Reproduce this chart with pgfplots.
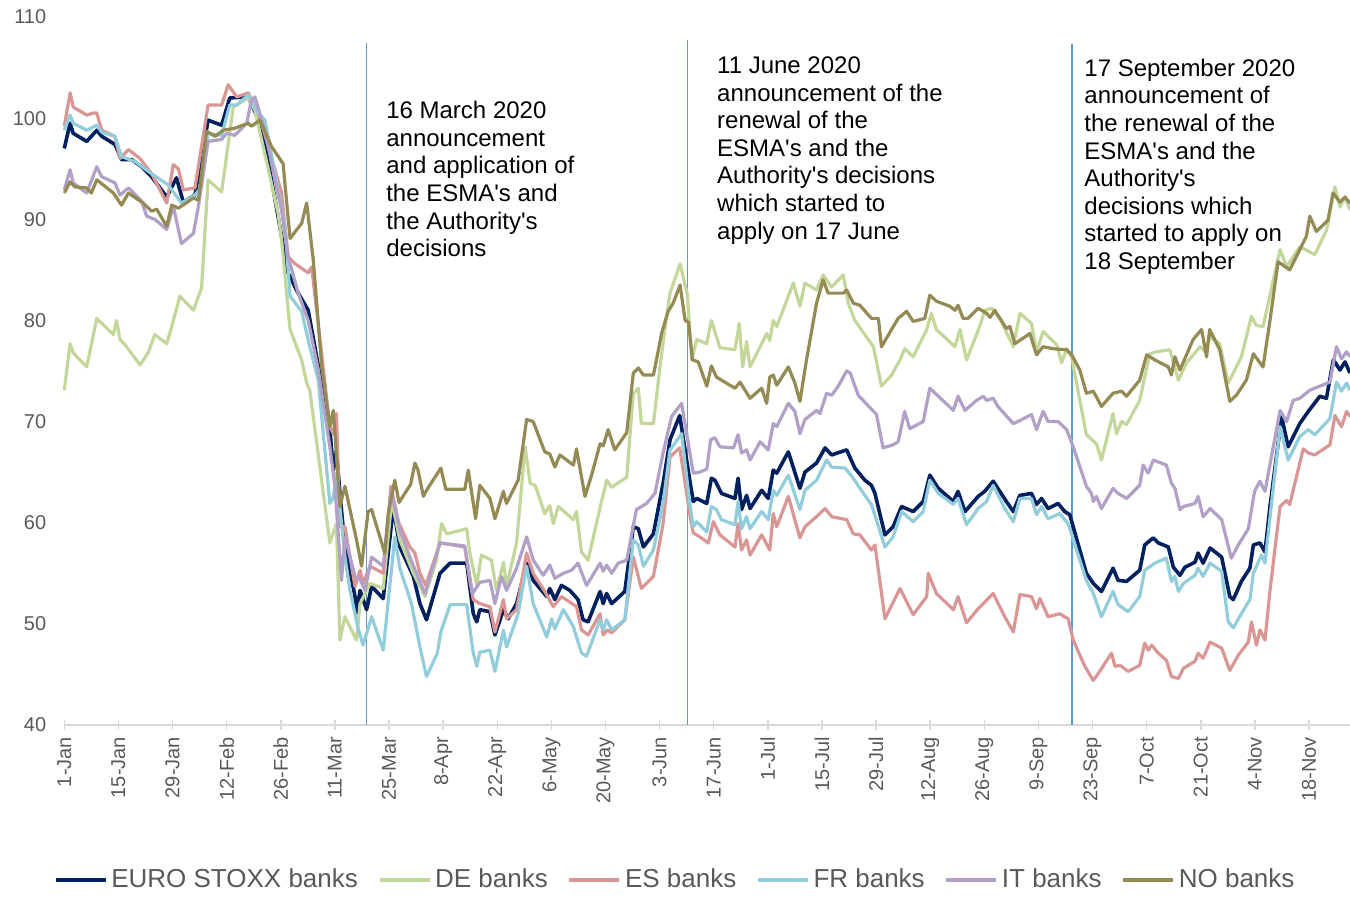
\documentclass[border=0pt]{standalone}
\usepackage{pgfplots}
\pgfplotsset{compat=1.18}
\usepackage{fontspec}
\setmainfont{Liberation Sans}
\definecolor{cEU}{HTML}{002060}
\definecolor{cDE}{HTML}{C4D79B}
\definecolor{cES}{HTML}{DA9694}
\definecolor{cFR}{HTML}{92CDDC}
\definecolor{cIT}{HTML}{B1A0C7}
\definecolor{cNO}{HTML}{948A54}
\definecolor{cVL}{HTML}{5B9BD5}
\definecolor{cTxt}{HTML}{595959}
\definecolor{cAx}{HTML}{D9D9D9}
\begin{document}
\begin{tikzpicture}
\useasboundingbox (0,0) rectangle (675pt,448.5pt);
\begin{axis}[
  at={(32.15pt,86pt)}, anchor=south west,
  scale only axis, width=642.85pt, height=354pt,
  xmin=0, xmax=332.6, ymin=40, ymax=110,
  clip=false,
  axis x line*=bottom, axis y line*=left,
  x axis line style={cAx, line width=0.75pt, -},
  y axis line style={draw=none},
  ytick style={draw=none},
  xtick style={cAx, line width=0.75pt},
  major tick length=5pt, tick align=center,
  xtick={0,14,...,322},
  xticklabels={1-Jan,15-Jan,29-Jan,12-Feb,26-Feb,11-Mar,25-Mar,8-Apr,22-Apr,6-May,20-May,3-Jun,17-Jun,1-Jul,15-Jul,29-Jul,12-Aug,26-Aug,9-Sep,23-Sep,7-Oct,21-Oct,4-Nov,18-Nov},
  ytick={40,50,...,110},
  /pgf/number format/assume math mode=true,
  tick label style={font=\fontsize{10}{12}\selectfont, text=cTxt},
  xticklabel style={rotate=90, anchor=east},
  yticklabel style={xshift=-3pt},
  legend columns=6,
  legend style={at={(0.476,-0.219)}, anchor=center, draw=none, fill=none,
    font=\fontsize{13}{15}\selectfont, text=cTxt,
    /tikz/every even column/.append style={column sep=8pt}},
  legend image code/.code={\draw[#1, line width=1.6pt] (0pt,0pt) -- (25pt,0pt);},
  every axis plot/.append style={line width=1.6pt, line join=round, no markers},
]
\addplot[cVL, line width=0.6pt, forget plot] coordinates {(78.2,40)(78.2,107.4)};
\addplot[cVL, line width=0.6pt, forget plot] coordinates {(161.2,40)(161.2,107.7)};
\addplot[cVL, line width=0.6pt, forget plot] coordinates {(260.7,40)(260.7,107.3)};

\addplot[cEU, line width=1.8pt] coordinates {
(0,97.0)(1.5,99.5)(2.3,98.5)(5.8,97.7)(8.4,98.8)(9.7,98.2)(13.1,97.4)(14.8,95.9)(17.4,95.9)(20,95.2)(22.6,94.2)(26.5,92.2)(29,94.1)(30.8,91.7)(33.8,92.4)(37.2,99.8)(40.7,99.3)(42.8,102.0)(47.6,102.1)(51,99.2)(53.6,93.9)(57.9,84.7)(60.5,82.7)(63.1,81.0)(68.7,69.2)(69.6,65.2)(70.4,67.2)(71.3,62.9)(72.6,57.6)(73.9,55.3)(75.2,52.7)(75.6,51.0)(76.5,53.3)(77.3,52.4)(78.2,51.4)(79.5,53.7)(82.5,52.5)(85.1,61.5)(86.8,57.6)(90.3,54.7)(92,52.0)(93.7,50.4)(97.2,55)(99.8,56)(104.1,56)(105.8,51.0)(106.7,50.2)(107.5,51.4)(110.1,51.2)(111.4,48.9)(113.6,51.4)(114.8,50.5)(117,52)(119.6,56)(121.3,54.3)(124.8,52.7)(125.6,53.5)(126.9,52.4)(128.6,53.8)(130.8,53.3)(132.9,52.4)(134.2,50.4)(135.5,50.2)(138.6,53.2)(139.4,52.0)(140.3,53.0)(141.6,52.0)(145,53.2)(147.2,59.6)(148.5,59.4)(149.8,57.6)(152.4,58.9)(154.9,63.9)(156.7,68.2)(159.2,70.6)(161.8,64.2)(162.7,62.1)(163.6,62.4)(166.2,61.9)(167.4,64.4)(168.3,64.2)(170,62.9)(173.5,62.4)(174.3,64.4)(175.2,61.3)(176.5,62.7)(177.4,61.4)(180.4,63.2)(182.1,62.4)(183.4,65.2)(184.3,64.9)(187.3,67.0)(190.3,63.4)(191.6,65.0)(194.6,65.9)(196.8,67.4)(198.5,66.7)(202.4,67.2)(204.5,65.4)(207.1,64.2)(208.8,63.7)(209.7,62.9)(212.3,58.8)(214.4,59.6)(216.6,61.6)(219.6,61.1)(222.2,62.1)(223.9,64.7)(226.1,63.4)(230,62.1)(231.2,63.1)(233,61.1)(236.4,62.6)(238.1,63.1)(240.3,64.1)(243.7,62.1)(245.5,61.1)(247.2,62.7)(250.2,62.9)(251.5,61.8)(252.8,62.4)(254.5,61.4)(257.1,61.9)(258.8,61.1)(260.1,60.8)(264.4,55.0)(266.2,54.0)(268.3,53.2)(271.3,55.5)(272.6,54.3)(274.8,54.2)(278.2,55.3)(279.5,57.8)(281.7,58.5)(283,58.0)(285.6,57.6)(286.9,55.6)(288.6,54.8)(289.9,55.6)(292.5,56.1)(293.3,57.0)(294.6,56.0)(296.4,57.5)(299.4,56.6)(301.5,52.7)(302.4,52.4)(304.5,54.2)(306.7,55.5)(307.6,57.8)(309.3,58.0)(310.6,57.1)(311.9,61.6)(314.9,70.5)(316.6,67.5)(319.6,69.8)(321.8,71.0)(324.8,72.5)(326.5,72.3)(328.3,76.1)(330,75.1)(331.3,75.9)(332.6,74.8)
};
\addlegendentry{EURO STOXX banks}

\addplot[cDE] coordinates {
(0,73.1)(1.5,77.7)(2.3,76.8)(5.8,75.4)(8.4,80.2)(12.7,78.6)(13.5,80.0)(14.4,78.1)(15.7,77.6)(19.6,75.6)(21.7,76.8)(23.4,78.6)(26.5,77.7)(27.8,79.4)(29.9,82.4)(33.4,81.0)(35.5,83.2)(37.2,93.9)(40.7,92.7)(43.7,101.1)(47.6,102.0)(49.3,100.8)(52.8,94.9)(55.3,90.6)(56.2,88.0)(58.4,79.1)(61.4,76.1)(62.7,73.8)(63.5,73.1)(68.7,58.0)(70.4,59.9)(71.3,48.4)(72.6,50.7)(75.6,48.4)(76.5,52.0)(78.2,53.3)(79.1,54.0)(82.5,53.5)(84.7,62.2)(86.8,58.3)(90.3,55.0)(93.3,52.7)(96.3,56.3)(97.6,59.9)(98.9,58.9)(104.1,59.4)(104.9,57.0)(106.7,53.8)(107.9,56.8)(110.5,56.3)(111.8,53.3)(113.6,56.1)(114.4,53.7)(117,58.0)(119.2,67.5)(120.5,63.9)(121.8,63.7)(124.3,60.9)(125.6,61.7)(126.5,59.9)(127.8,61.6)(131.7,60.3)(132.5,61.1)(133.8,57.1)(135.5,56.3)(138.6,61.5)(140.3,64.2)(141.6,63.5)(145.5,64.5)(147.2,72.8)(148.5,73.3)(149.3,69.8)(152.4,69.8)(154.1,75.4)(155.8,80.4)(156.7,82.7)(159.3,85.6)(161.2,82.5)(162.3,76.1)(163.6,78.1)(166.2,77.7)(167.4,80.0)(169.6,77.3)(173.5,77.1)(174.6,79.7)(175.5,75.4)(176.5,77.9)(177.4,75.4)(181.7,78.7)(182.5,78.0)(183.4,80.0)(184.3,79.4)(188.6,83.7)(190.3,81.4)(191.6,83.7)(194.6,83.0)(196.3,84.5)(198.5,83.3)(201.5,84.5)(202.8,81.7)(204.5,80.0)(209.3,77.4)(211.4,73.5)(214,74.6)(216.2,76.1)(217.4,77.2)(219.6,76.4)(223.1,79.1)(224.3,80.7)(225.6,79.1)(230.4,77.4)(231.7,79.1)(233.4,76.1)(236.8,79.4)(238.1,81.0)(239.9,81.2)(242,80.2)(245.5,77.4)(247.2,80.7)(250.2,79.7)(251.5,76.9)(253.2,78.9)(256.7,77.6)(258,75.8)(259.3,77.2)(260.6,76.4)(262.7,72.1)(264.4,68.7)(267,67.8)(268.3,66.2)(271.3,70.8)(272.2,68.8)(273.5,70.0)(274.8,69.7)(278.2,72.1)(280.8,76.7)(282.5,76.9)(286,77.1)(288.2,74.1)(290.3,75.8)(293.8,77.4)(295.1,76.9)(296.3,78.4)(298.9,77.7)(301.1,73.8)(302.4,74.8)(304.5,76.4)(307.1,80.4)(308.4,79.5)(310.1,79.4)(314.5,87.0)(316.2,85.3)(319.6,87.3)(323.5,86.5)(326.5,88.9)(328.7,93.2)(330,91.2)(331.3,92.2)(332.6,90.9)
};
\addlegendentry{DE banks}

\addplot[cES] coordinates {
(0,99.2)(1.5,102.5)(2.3,101.1)(5.8,100.3)(7.5,100.5)(8.4,100.5)(9.7,98.8)(13.1,98.2)(14.4,96.0)(16.6,96.9)(19.6,96.0)(22.6,94.5)(26.5,91.6)(28.2,95.4)(29.5,95.0)(30.8,92.9)(33.8,93.1)(37.2,101.3)(40.7,101.3)(42.4,103.3)(44.6,102.1)(47.6,102.5)(50.2,100.5)(52.8,97.2)(56.2,92.6)(57.9,86.3)(59.7,85.6)(63.1,84.7)(64,85.3)(68.7,69.5)(69.6,68.8)(70.4,70.8)(71.3,59.6)(72.6,59.6)(75.2,53.7)(76.5,55.3)(77.3,54.0)(79.1,55.7)(82.5,55.0)(84.5,63.6)(86.5,60.0)(89.4,57.6)(90.7,57.0)(92,55.0)(93.5,53.8)(97.2,58.0)(103.6,57.6)(104.9,54.3)(105.8,52.4)(107.5,52.0)(110.1,51.7)(111.4,49.2)(113.6,52.4)(114.4,50.5)(117,51.4)(119.6,57.0)(121.3,55.0)(124.3,53.2)(126.5,51.7)(128.6,52.7)(132.5,51.7)(133.8,49.4)(135.5,48.9)(138.6,51.0)(139.4,48.9)(140.5,49.4)(141.6,49.1)(145,50.4)(147.2,56.6)(149.3,53.5)(152.4,54.7)(154.9,59.9)(156.7,66.5)(159.2,67.4)(161.8,60.9)(162.7,59.0)(164.4,58.6)(166.6,58.0)(167.9,60.1)(169.6,58.8)(173.5,57.6)(174.3,59.9)(175.2,57.3)(176.5,58.3)(177.4,56.8)(180.4,58.8)(182.5,57.3)(183.4,60.9)(184.3,59.6)(187.3,62.6)(190.3,58.5)(191.6,59.6)(194.6,60.6)(196.8,61.4)(198.5,60.6)(202.4,60.3)(204.1,58.9)(205.8,58.8)(208.8,57.3)(209.7,57.8)(212.3,50.5)(216.2,53.5)(219.6,50.9)(223.1,52.7)(223.5,55.0)(225.6,53.0)(230,51.4)(231.2,52.7)(233.4,50.1)(236.4,51.5)(240.3,53.0)(243.3,50.7)(245.5,49.2)(247.2,52.9)(250.2,52.7)(251.5,51.5)(252.4,52.5)(254.5,50.7)(257.5,51.0)(259.7,50.5)(261,48.4)(264,45.8)(266.2,44.4)(267.5,45.1)(270.9,47.1)(271.8,45.8)(273.1,45.9)(275.2,45.3)(278.2,45.9)(279.5,48.1)(280.4,47.4)(281.3,47.9)(283,47.1)(285.1,46.4)(286.4,44.8)(288.2,44.6)(289.5,45.6)(292.5,46.3)(293.3,47.1)(294.6,46.6)(296.4,48.2)(299.4,47.6)(301.5,45.4)(303.7,46.9)(306.3,48.2)(307.1,50.2)(308.4,47.9)(309.3,49.4)(310.6,48.4)(311.9,53.3)(314.5,61.6)(316.2,62.2)(317,61.8)(320.5,67.3)(321.8,66.9)(323.5,66.7)(327.4,67.7)(328.7,70.6)(330.4,69.5)(331.7,71.0)(332.6,70.5)
};
\addlegendentry{ES banks}

\addplot[cFR] coordinates {
(0,98.8)(1.5,100.3)(2.3,99.5)(5.8,98.8)(8.4,99.3)(9.7,98.6)(13.1,98.2)(14.8,96.2)(18.3,95.7)(22.6,94.5)(26.9,93.4)(30.3,91.6)(33.8,92.4)(35.5,93.2)(37.2,98.5)(40.7,98.3)(42.8,101.3)(44.6,101.3)(47.6,102.3)(50.2,100.5)(51.9,99.8)(54.5,94.5)(57.1,89.3)(58.4,82.4)(61.4,80.9)(63.5,77.4)(65.7,74.1)(68.7,61.9)(69.6,62.5)(70.4,64.9)(72.6,56.6)(73.9,53.3)(76.1,49.4)(77.3,47.9)(79.5,50.7)(82.5,47.4)(85.5,58.6)(86.8,55.5)(89.8,52.0)(92,47.7)(93.7,44.8)(96.5,47.1)(97.4,49.2)(99.8,51.9)(104.1,51.9)(105.8,47.1)(106.7,45.8)(107.5,47.2)(110.1,47.4)(111.4,45.3)(113.6,49.4)(114.4,47.7)(117.4,51.0)(119.6,55.7)(121.3,52.0)(124.8,48.7)(126.1,50.5)(126.9,49.5)(129.1,51.4)(131.7,49.7)(133.8,47.1)(135.1,46.8)(138.6,50.4)(139.4,49.4)(140.3,50.4)(141.6,49.4)(145,50.4)(147.2,58.3)(148.5,57.8)(149.8,55.7)(152.4,57.3)(154.9,61.9)(156.7,67.2)(159.7,68.8)(161.8,61.9)(162.7,59.6)(163.6,60.1)(166.2,59.1)(167.4,61.6)(168.7,61.3)(170,60.3)(173.5,59.8)(174.3,62.1)(175.2,59.4)(176.5,60.6)(177.4,59.4)(180.4,61.1)(182.1,60.3)(183.4,63.2)(184.3,62.7)(187.3,64.7)(190.3,61.3)(191.6,63.2)(194.6,64.2)(197.2,66.2)(198.5,65.5)(202,65.4)(203.7,64.6)(207.1,62.7)(208.8,61.8)(212.3,57.6)(214.4,58.6)(216.6,61.1)(219.6,60.1)(222.2,61.1)(223.9,64.2)(226.1,62.9)(230,61.8)(231.2,62.4)(233.4,59.8)(236.4,61.4)(238.6,62.1)(240.3,63.7)(243.3,61.4)(245.5,60.1)(247.2,62.4)(250.2,62.4)(251.5,60.8)(252.8,61.6)(254.5,60.4)(257.5,60.9)(259.7,59.9)(264.4,54.3)(266.2,53.0)(268.3,50.7)(271.3,53.2)(272.6,51.9)(275.2,51.2)(278.2,52.7)(279.5,55.3)(282.1,56.0)(285.1,56.5)(286.4,54.2)(287.3,54.7)(288.2,53.2)(289.5,54.0)(292.5,54.8)(293.3,55.5)(294.6,54.7)(296.4,56.0)(299.4,55.2)(301.1,50.2)(302.4,49.6)(304.5,51.0)(306.7,52.4)(307.6,55.0)(309.7,56.8)(310.6,56.0)(314.5,69.5)(316.6,66.2)(319.6,68.5)(321.8,69.2)(323.5,68.7)(327.4,70.3)(329.1,73.9)(330.4,73.0)(331.7,73.8)(332.6,73.1)
};
\addlegendentry{FR banks}

\addplot[cIT] coordinates {
(0,92.9)(1.5,94.9)(2.3,93.6)(5.8,92.6)(8.4,95.2)(9.7,94.2)(13.1,93.6)(14.4,92.4)(16.6,93.1)(20,91.8)(21.3,90.3)(23.4,90.0)(26.5,89.0)(28.2,91.3)(30.3,87.6)(33.4,88.6)(34.7,91.3)(37.2,97.7)(40.7,97.9)(42,98.5)(44.1,98.3)(47.2,99.5)(48.4,101.8)(49.3,102.1)(51.9,98.8)(54.5,93.9)(56.2,90.9)(57.9,86.3)(60.5,82.7)(63.1,80.0)(65.7,75.1)(68.7,67.5)(70,63.6)(71.7,54.3)(72.6,58.6)(75.2,54.7)(76.5,54.4)(77.8,53.3)(79.5,56.6)(82.5,55.7)(84.5,63.1)(86.8,59.3)(89.4,56.6)(91.1,55.0)(93.3,53.0)(97.2,58.0)(103.6,57.7)(105.6,53.0)(107.5,54.1)(110.1,54.3)(111.4,52.0)(113.1,54.7)(114.4,53.3)(117,55.5)(119.6,58.6)(121.3,56.3)(123.9,54.8)(125.6,55.8)(126.9,54.5)(129.1,55.0)(131.2,55.3)(132.9,56.0)(135.1,53.8)(138.6,56.0)(139.4,55.2)(140.3,55.8)(141.6,55.0)(143.3,56.0)(145.5,56.3)(148,61.3)(150.6,61.9)(152.8,62.9)(154.9,66.9)(157.1,70.5)(159.7,71.8)(162.7,64.9)(164.4,65.0)(166.2,65.3)(167.2,68.2)(168.3,68.4)(169.6,67.5)(173.1,67.4)(174.3,68.7)(175.2,66.9)(176.5,67.2)(177.4,66.2)(180,68.0)(182.1,67.2)(183.4,69.8)(184.3,69.5)(187.3,71.8)(189,71.0)(190.3,68.8)(191.6,70.2)(194.6,71.1)(195.5,70.8)(197.2,72.8)(198.5,72.6)(200.2,73.5)(202.4,75.0)(203.3,74.8)(205.4,72.6)(210.1,70.7)(211.8,67.4)(214.4,67.7)(215.7,68.0)(217.4,71.0)(218.7,69.3)(222.2,70.0)(223.9,73.3)(226.1,72.5)(230,71.1)(231.2,72.5)(233,71.1)(236,72.1)(237.7,72.5)(238.6,72.1)(240.3,72.3)(241.5,71.5)(245.5,69.8)(247.2,70.1)(250.2,70.7)(251.5,69.2)(253.2,71.0)(254.5,70.0)(257.1,70.0)(259.3,69.2)(261,67.5)(264.4,63.6)(265.7,62.9)(266.2,62.1)(267,62.6)(268.3,61.4)(271.3,63.4)(272.6,62.9)(274.8,62.4)(278.2,63.7)(279.1,65.7)(280.4,64.9)(281.7,66.2)(285.1,65.7)(286.4,63.9)(287.3,63.4)(288.6,61.3)(289.5,61.6)(292.5,61.9)(293.3,62.6)(294.6,60.6)(296.4,61.4)(299.4,60.3)(300.7,58.3)(301.9,56.5)(303.7,57.8)(306.3,59.4)(307.9,63.1)(309.3,64.1)(310.6,63.1)(314.5,71.1)(316.2,70.0)(317.9,72.1)(319.6,72.3)(322.2,73.1)(323.5,73.3)(327.4,73.9)(329.1,77.4)(330.4,76.2)(331.7,76.9)(332.6,76.4)
};
\addlegendentry{IT banks}

\addplot[cNO] coordinates {
(0,92.6)(1.5,93.7)(2.8,93.2)(5.8,93.1)(7,92.6)(8.4,93.9)(12.7,92.6)(14.8,91.4)(16.6,92.6)(20.4,91.6)(22.6,90.8)(23.9,91.0)(26.5,89.3)(27.8,91.4)(29.5,91.1)(33.4,92.1)(34.7,91.9)(36.8,98.7)(39,98.2)(41.1,98.8)(44.1,99.0)(47.6,99.5)(48.4,99.2)(50.6,99.8)(53.6,97.2)(56.6,95.5)(58.4,88.1)(61.4,89.6)(62.7,91.6)(64.4,86.0)(66.6,75.4)(68.7,69.5)(69.6,71.1)(71.3,61.6)(72.6,63.6)(75.6,58.3)(76.9,55.7)(78.6,61.1)(79.5,61.3)(82.9,57.0)(83.8,60.9)(85.5,64.2)(86.6,62.0)(89.6,63.8)(90.7,65.9)(91.5,65.2)(92.9,62.6)(93.7,63.2)(97.4,65.4)(98.7,63.3)(103.6,63.3)(104.5,65.2)(106.4,60.4)(107.5,63.7)(110.1,62.4)(111.4,60.4)(113.6,63.1)(114.4,61.9)(117.4,64.2)(119.6,70.2)(121.3,70.0)(124.3,67.0)(125.6,66.8)(126.9,65.5)(128.2,66.7)(131.7,65.7)(132.5,67.3)(134.7,62.6)(136.4,64.7)(138.6,67.8)(139.4,67.6)(140.7,69.2)(142.4,67.2)(145.5,68.9)(147.2,74.8)(148.5,75.3)(149.8,74.6)(152.4,74.6)(153.7,77.1)(154.5,78.7)(156.2,80.9)(157.5,81.7)(159.3,83.5)(160.6,80.0)(161.5,79.8)(162.5,76.1)(164,75.9)(166.2,73.5)(167.4,75.5)(168.7,74.4)(171.3,73.8)(173.5,73.3)(174.8,73.9)(177.4,72.3)(180.4,73.3)(181.7,71.8)(182.5,74.4)(183.4,74.6)(184.3,73.6)(187.3,75.4)(189,73.8)(190.3,72.0)(192,76.1)(194.6,81.7)(196.3,84.0)(197.6,82.7)(201.5,82.7)(202.4,83.0)(204.1,81.7)(205.8,81.5)(208.8,80.2)(210.6,80.2)(211.4,77.4)(215.7,80.2)(217.9,80.9)(219.6,79.9)(222.6,80.2)(223.9,82.5)(225.6,81.9)(229.1,81.4)(230.4,81.0)(231.2,81.5)(232.5,80.2)(233.8,80.2)(236.4,81.2)(238.6,80.7)(239.5,80.3)(240.7,81.0)(243.7,79.2)(244.6,79.4)(245.9,77.7)(249.8,78.7)(251.5,76.6)(253.2,77.4)(255.8,77.2)(259.3,77.1)(260.6,76.6)(262.7,75.1)(264.4,72.8)(266.2,73.0)(268.3,71.5)(271.3,72.8)(273.5,73.0)(274.8,72.5)(278.2,74.1)(280,76.6)(282.1,76.1)(285.6,75.4)(286.4,74.6)(287.3,76.4)(288.6,75.1)(292,78.1)(294.2,79.1)(295.5,76.4)(296.3,79.1)(298.9,77.1)(301.5,72.0)(303.2,72.6)(305.8,74.1)(307.6,76.7)(310.1,75.4)(311.9,80.0)(314,85.8)(317,85.0)(321.3,88.3)(322.2,90.3)(323.9,88.8)(326.9,89.9)(328.2,92.6)(330,91.7)(331.3,92.2)(332.6,91.6)
};
\addlegendentry{NO banks}

\node[anchor=north west, align=left, inner sep=0pt, font=\fontsize{12}{13.8}\selectfont] at (axis cs:83.2,101.7)
 {16 March 2020\\announcement\\and application of\\the ESMA\textquotesingle s and\\the Authority\textquotesingle s\\decisions};
\node[anchor=north west, align=left, inner sep=0pt, font=\fontsize{12}{13.8}\selectfont] at (axis cs:168.8,106.1)
 {11 June 2020\\announcement of the\\renewal of the\\ESMA\textquotesingle s and the\\Authority\textquotesingle s decisions\\which started to\\apply on 17 June};
\node[anchor=north west, align=left, inner sep=0pt, font=\fontsize{12}{13.8}\selectfont] at (axis cs:263.8,105.9)
 {17 September 2020\\announcement of\\the renewal of the\\ESMA\textquotesingle s and the\\Authority\textquotesingle s\\decisions which\\started to apply on\\18 September};
\end{axis}
\end{tikzpicture}
\end{document}
